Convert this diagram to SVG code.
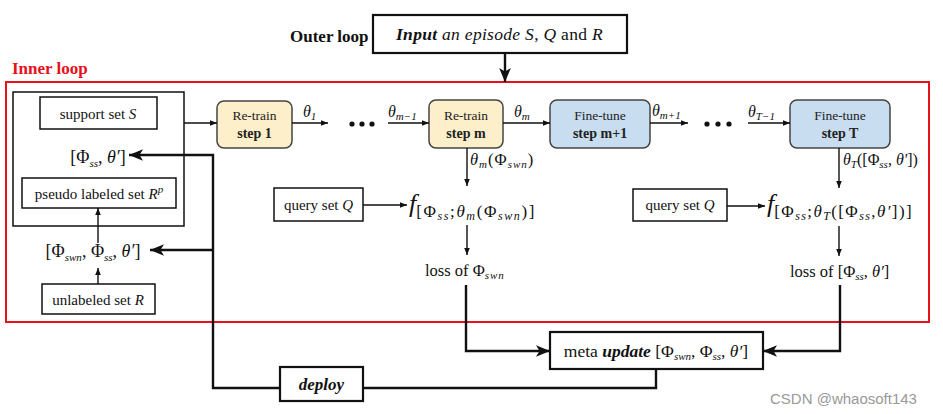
<svg xmlns="http://www.w3.org/2000/svg" width="943" height="414" viewBox="0 0 943 414">
<defs>
<style>
.serif{font-family:"Liberation Serif","Times New Roman",serif;fill:#111}
.sans{font-family:"Liberation Serif","Times New Roman",serif;fill:#222}
.box{fill:#fff;stroke:#111;stroke-width:1.5}
.bbox{fill:#fff;stroke:#111;stroke-width:2.2}
.ret{fill:#fcefc9;stroke:#444;stroke-width:1.5}
.fin{fill:#c8ddf0;stroke:#444;stroke-width:1.5}
.thin{fill:none;stroke:#111;stroke-width:1.4}
.thick{fill:none;stroke:#111;stroke-width:2.4}
.it{font-style:italic}
.sub{font-size:11px;font-style:italic}
</style>
<marker id="a" viewBox="0 0 10 10" refX="10" refY="5" markerWidth="7" markerHeight="7" markerUnits="userSpaceOnUse" orient="auto"><path d="M0,1 L10,5 L0,9 z" fill="#111"/></marker>
<marker id="b" viewBox="0 0 12 10" refX="12" refY="5" markerWidth="14" markerHeight="12" markerUnits="userSpaceOnUse" orient="auto"><path d="M0,0 L12,5 L0,10 L3,5 z" fill="#111"/></marker>
</defs>

<g id="outer-label"><text class="serif" x="290" y="42" font-size="17" font-weight="bold">Outer loop</text></g>
<g id="input">
<rect class="bbox" x="373" y="15" width="254" height="38"/>
<text class="serif" x="396" y="40" font-size="17.5" letter-spacing="0.3"><tspan font-weight="bold" font-style="italic">Input</tspan><tspan font-style="italic"> an episode  S</tspan>, <tspan font-style="italic">Q</tspan> and <tspan font-style="italic">R</tspan></text>
</g>
<g id="inner-loop">
<text x="12" y="74" font-size="17" font-weight="bold" font-family="Liberation Serif,serif" fill="#e8101a">Inner loop</text>
<rect x="6" y="82" width="923" height="240" fill="none" stroke="#e8101a" stroke-width="2"/>
</g>

<g id="data-box"><rect class="box" x="13" y="92" width="171" height="134"/></g>
<g id="support"><rect class="box" x="40" y="97" width="117" height="32"/><text class="serif" x="98" y="119" font-size="15" text-anchor="middle">support set <tspan class="it">S</tspan></text></g>
<g id="phi-ss"><text class="serif" x="98" y="163" font-size="18" text-anchor="middle">[Φ<tspan class="sub" font-size="12" dy="4">ss</tspan><tspan dy="-4">, </tspan><tspan class="it">θ′</tspan>]</text></g>
<g id="pseudo"><rect class="box" x="22" y="178" width="154" height="30"/><text class="serif" x="99" y="199" font-size="15" text-anchor="middle">pseudo labeled set <tspan class="it">R</tspan><tspan font-size="11" class="it" dy="-6">p</tspan></text></g>
<g id="phi-all"><text class="serif" x="93" y="257" font-size="18" text-anchor="middle">[Φ<tspan class="sub" font-size="12" dy="4">swn</tspan><tspan dy="-4">, Φ</tspan><tspan class="sub" font-size="12" dy="4">ss</tspan><tspan dy="-4">, </tspan><tspan class="it">θ′</tspan>]</text></g>
<g id="unlabeled"><rect class="box" x="42" y="284" width="113" height="30"/><text class="serif" x="98" y="305" font-size="15" text-anchor="middle">unlabeled set <tspan class="it">R</tspan></text></g>

<g id="step1"><rect class="ret" x="217" y="101" width="75" height="47" rx="7"/><text class="sans" x="254.5" y="120" font-size="13.5" text-anchor="middle">Re-train</text><text class="sans" x="254.5" y="138" font-size="14" font-weight="bold" text-anchor="middle">step 1</text></g>
<g id="stepm"><rect class="ret" x="429" y="100" width="74" height="48" rx="7"/><text class="sans" x="466" y="120" font-size="13.5" text-anchor="middle">Re-train</text><text class="sans" x="466" y="138" font-size="14" font-weight="bold" text-anchor="middle">step m</text></g>
<g id="stepm1"><rect class="fin" x="550" y="100" width="100" height="48" rx="7"/><text class="sans" x="600" y="120" font-size="13.5" text-anchor="middle">Fine-tune</text><text class="sans" x="600" y="138" font-size="14" font-weight="bold" text-anchor="middle">step m+1</text></g>
<g id="stepT"><rect class="fin" x="790" y="100" width="100" height="48" rx="7"/><text class="sans" x="840" y="120" font-size="13.5" text-anchor="middle">Fine-tune</text><text class="sans" x="840" y="138" font-size="14" font-weight="bold" text-anchor="middle">step T</text></g>

<g id="dots1" fill="#111"><circle cx="352" cy="124" r="2.6"/><circle cx="362" cy="124" r="2.6"/><circle cx="372" cy="124" r="2.6"/></g>
<g id="dots2" fill="#111"><circle cx="707" cy="124" r="2.6"/><circle cx="718" cy="124" r="2.6"/><circle cx="729" cy="124" r="2.6"/></g>

<g id="query1"><rect class="box" x="274" y="188" width="89" height="33"/><text class="serif" x="318.5" y="210" font-size="15" text-anchor="middle">query set <tspan class="it">Q</tspan></text></g>
<g id="f1"><text class="serif" x="409" y="212" font-size="26"><tspan class="it">f</tspan><tspan letter-spacing="1.6"><tspan font-size="17" dy="5">[Φ</tspan><tspan font-size="12" class="it" dy="3">ss</tspan><tspan font-size="17" dy="-3">;</tspan><tspan font-size="17" class="it">θ</tspan><tspan font-size="12" class="it" dy="3">m</tspan><tspan font-size="17" dy="-3">(Φ</tspan><tspan font-size="12" class="it" dy="3">swn</tspan><tspan font-size="17" dy="-3">)]</tspan></tspan></text></g>
<g id="loss1"><text class="serif" x="425" y="276" font-size="16.5">loss of Φ<tspan class="sub" font-size="11" dy="3" letter-spacing="1">swn</tspan></text></g>

<g id="query2"><rect class="box" x="633" y="189" width="94" height="32"/><text class="serif" x="680" y="210" font-size="15" text-anchor="middle">query set <tspan class="it">Q</tspan></text></g>
<g id="f2"><text class="serif" x="767" y="212" font-size="26"><tspan class="it">f</tspan><tspan letter-spacing="1.4"><tspan font-size="17" dy="5">[Φ</tspan><tspan font-size="12" class="it" dy="3">ss</tspan><tspan font-size="17" dy="-3">;</tspan><tspan font-size="17" class="it">θ</tspan><tspan font-size="12" class="it" dy="3">T</tspan><tspan font-size="17" dy="-3">([Φ</tspan><tspan font-size="12" class="it" dy="3">ss</tspan><tspan font-size="17" dy="-3">,</tspan><tspan font-size="17" class="it">θ′</tspan><tspan font-size="17">])]</tspan></tspan></text></g>
<g id="loss2"><text class="serif" x="790" y="277" font-size="16.5">loss of [Φ<tspan class="sub" font-size="11" dy="3">ss</tspan><tspan dy="-3">, </tspan><tspan class="it">θ′</tspan>]</text></g>

<g id="meta"><rect class="bbox" x="550" y="332" width="213" height="37"/><text class="serif" x="656" y="357" font-size="17.5" text-anchor="middle">meta <tspan font-weight="bold" font-style="italic">update</tspan> [Φ<tspan class="sub" dy="3">swn</tspan><tspan dy="-3">, Φ</tspan><tspan class="sub" dy="3">ss</tspan><tspan dy="-3">, </tspan><tspan class="it">θ′</tspan>]</text></g>
<g id="deploy"><rect class="bbox" x="280" y="367" width="83" height="34"/><text class="serif" x="321.5" y="390" font-size="17" font-weight="bold" font-style="italic" text-anchor="middle">deploy</text></g>

<g id="labels" class="serif" font-size="16">
<text x="303" y="117" class="it">θ<tspan class="sub" font-style="normal" dy="3">1</tspan></text>
<text x="388" y="117" class="it">θ<tspan class="sub" dy="3">m−1</tspan></text>
<text x="514" y="117" class="it">θ<tspan class="sub" dy="3">m</tspan></text>
<text x="652" y="116" class="it">θ<tspan class="sub" dy="3">m+1</tspan></text>
<text x="748" y="117" class="it">θ<tspan class="sub" dy="3">T−1</tspan></text>
<text x="470" y="165" font-size="16.5" letter-spacing="1"><tspan class="it">θ</tspan><tspan class="sub" dy="3">m</tspan><tspan dy="-3">(Φ</tspan><tspan class="sub" dy="3">swn</tspan><tspan dy="-3">)</tspan></text>
<text x="843" y="165" font-size="16"><tspan class="it">θ</tspan><tspan class="sub" dy="3">T</tspan><tspan dy="-3">([Φ</tspan><tspan class="sub" dy="3">ss</tspan><tspan dy="-3">, </tspan><tspan class="it">θ′</tspan>])</text>
</g>

<g id="connectors">
<path class="thick" d="M505,53 V82" marker-end="url(#b)"/>
<path class="thin" d="M184,123 H217" marker-end="url(#a)"/>
<path class="thin" d="M292,123 H328" marker-end="url(#a)"/>
<path class="thin" d="M388,123 H429" marker-end="url(#a)"/>
<path class="thin" d="M503,123 H550" marker-end="url(#a)"/>
<path class="thin" d="M650,123 H688" marker-end="url(#a)"/>
<path class="thin" d="M748,123 H790" marker-end="url(#a)"/>
<path class="thin" d="M467,148 V186" marker-end="url(#a)"/>
<path class="thin" d="M363,205 H407" marker-end="url(#a)"/>
<path class="thin" d="M467,225 V255" marker-end="url(#a)"/>
<path class="thin" d="M839,148 V188" marker-end="url(#a)"/>
<path class="thin" d="M727,206 H765" marker-end="url(#a)"/>
<path class="thin" d="M839,226 V256" marker-end="url(#a)"/>
<path class="thin" d="M98,243 V208" marker-end="url(#a)"/>
<path class="thin" d="M98,284 V268" marker-end="url(#a)"/>
<path class="thick" d="M466,285 V351 H550" marker-end="url(#b)"/>
<path class="thick" d="M840,285 V351 H763" marker-end="url(#b)"/>
<path class="thick" d="M656,369 V388 H363"/>
<path class="thick" d="M280,388 H213 V155 H129" marker-end="url(#b)"/>
<path class="thick" d="M213,250 H150" marker-end="url(#b)"/>
</g>

<g id="watermark"><text x="770" y="404" font-family="Liberation Sans,Arial,sans-serif" font-size="15" fill="#999">CSDN @whaosoft143</text></g>
</svg>
